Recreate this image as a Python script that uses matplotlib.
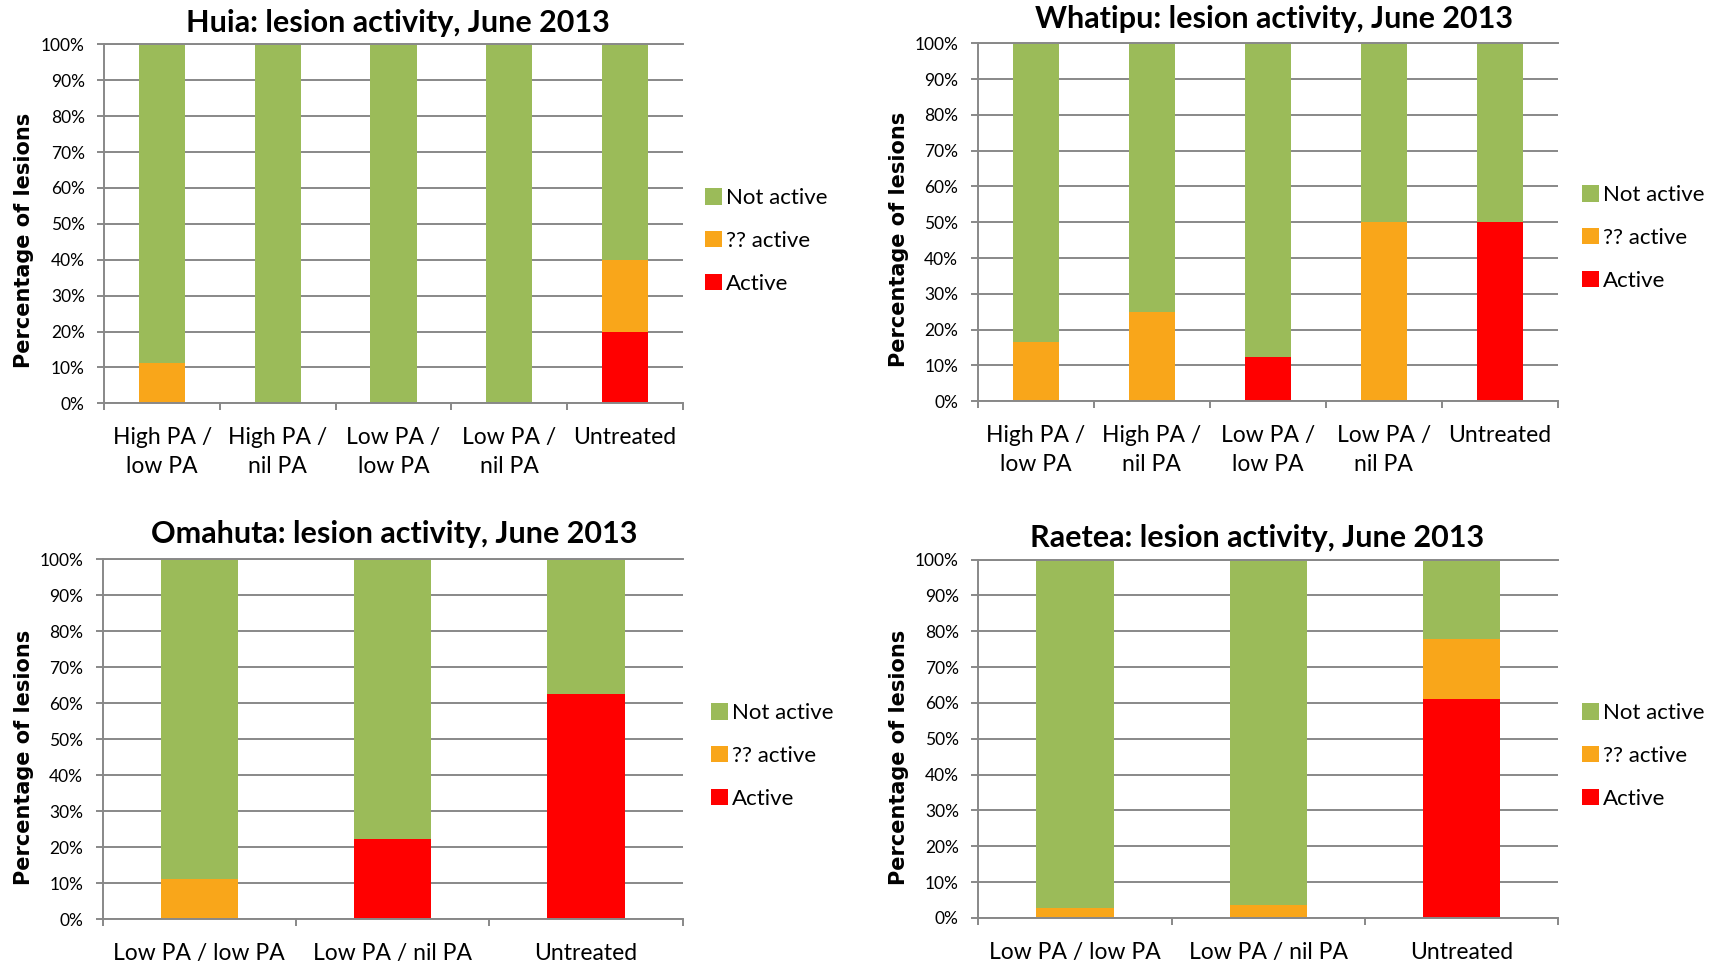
"""Lesion activity, June 2013: four stacked percentage bar charts."""

import matplotlib
matplotlib.use("Agg")
import matplotlib.pyplot as plt
import numpy as np

# ---- data (percent of lesions) ----
series_names = ["Not active", "?? active", "Active"]

huia_cats = ["High PA /\nlow PA", "High PA /\nnil PA", "Low PA /\nlow PA",
             "Low PA /\nnil PA", "Untreated"]
huia_active = [0, 0, 0, 0, 20]
huia_unsure = [11.1, 0, 0, 0, 20]
huia_not = [88.9, 100, 100, 100, 60]

whatipu_cats = ["High PA /\nlow PA", "High PA /\nnil PA", "Low PA /\nlow PA",
                "Low PA /\nnil PA", "Untreated"]
whatipu_active = [0, 0, 12.5, 0, 50]
whatipu_unsure = [16.7, 25, 0, 50, 0]
whatipu_not = [83.3, 75, 87.5, 50, 50]

omahuta_cats = ["Low PA / low PA", "Low PA / nil PA", "Untreated"]
omahuta_active = [0, 22.2, 62.5]
omahuta_unsure = [11.1, 0, 0]
omahuta_not = [88.9, 77.8, 37.5]

raetea_cats = ["Low PA / low PA", "Low PA / nil PA", "Untreated"]
raetea_active = [0, 0, 61.1]
raetea_unsure = [2.8, 3.7, 16.7]
raetea_not = [97.2, 96.3, 22.2]

y_ticks = list(range(0, 101, 10))
y_tick_labels = [f"{v}%" for v in y_ticks]

GREEN = "#9BBB59"
ORANGE = "#F9A61A"
RED = "#FF0000"
GRAY = "#888888"

W, H = 1710, 965


def fx(px):
    return px / W


def fy(py):
    return 1 - py / H


def panel(fig, box, title, title_pos, ylabel_pos, legend_pos,
          cats, active, unsure, not_active, xpad):
    left, top, right, bottom = box
    ax = fig.add_axes([fx(left), fy(bottom), (right - left) / W,
                       (bottom - top) / H])
    x = np.arange(len(cats))
    b_act = ax.bar(x, active, 0.4, color=RED)
    b_uns = ax.bar(x, unsure, 0.4, bottom=active, color=ORANGE)
    b_not = ax.bar(x, not_active, 0.4, bottom=np.add(active, unsure),
                   color=GREEN)

    ax.set_xlim(-0.5, len(cats) - 0.5)
    ax.set_ylim(0, 100)
    ax.set_axisbelow(True)
    ax.yaxis.grid(True, color=GRAY, lw=1.4)
    ax.set_yticks(y_ticks, labels=y_tick_labels)
    ax.set_xticks(x, labels=cats)
    ax.set_xticks(np.arange(-0.5, len(cats)), minor=True)
    ax.tick_params(axis="y", length=5, width=1.4, color=GRAY, pad=9,
                   labelsize=12.5)
    ax.tick_params(axis="x", which="major", length=0, pad=xpad,
                   labelsize=16.5)
    ax.tick_params(axis="x", which="minor", length=5, width=1.4, color=GRAY)
    for lab in ax.get_xticklabels():
        lab.set_linespacing(1.45)
    for side in ["left", "bottom", "top"]:
        ax.spines[side].set_color(GRAY)
        ax.spines[side].set_linewidth(1.4)
    ax.spines["right"].set_visible(False)

    fig.text(fx(title_pos[0]), fy(title_pos[1]), title, ha="center",
             va="baseline", fontsize=22, fontweight="bold")
    fig.text(fx(ylabel_pos[0]), fy(ylabel_pos[1]), "Percentage of lesions",
             rotation=90, ha="center", va="center", fontsize=15,
             fontweight="bold", family="DejaVu Sans")
    fig.legend([b_not, b_uns, b_act], series_names, loc="center left",
               bbox_to_anchor=(fx(legend_pos[0]), fy(legend_pos[1])),
               frameon=False, fontsize=16, handlelength=0.75,
               handleheight=0.75, handletextpad=0.2, labelspacing=1.03,
               borderpad=0, borderaxespad=0)
    return ax


def main():
    plt.rcParams["font.family"] = ["Lato", "DejaVu Sans"]
    fig = plt.figure(figsize=(W / 100, H / 100), dpi=100)

    panel(fig, (104.3, 44.3, 682.7, 403.3), "Huia: lesion activity, June 2013",
          (398, 32), (24, 240), (705, 241),
          huia_cats, huia_active, huia_unsure, huia_not, 17)
    panel(fig, (977.7, 43.3, 1558, 401.3),
          "Whatipu: lesion activity, June 2013",
          (1274, 28), (899, 239), (1582, 238),
          whatipu_cats, whatipu_active, whatipu_unsure, whatipu_not, 17)
    panel(fig, (102.7, 559, 682.7, 919),
          "Omahuta: lesion activity, June 2013",
          (394, 543), (24, 757), (711, 756),
          omahuta_cats, omahuta_active, omahuta_unsure, omahuta_not, 17)
    panel(fig, (978.3, 559.5, 1558.3, 918),
          "Raetea: lesion activity, June 2013",
          (1257, 547), (899, 757), (1582, 756),
          raetea_cats, raetea_active, raetea_unsure, raetea_not, 17)

    fig.savefig("out.png", dpi=100, facecolor="white")


if __name__ == "__main__":
    main()
